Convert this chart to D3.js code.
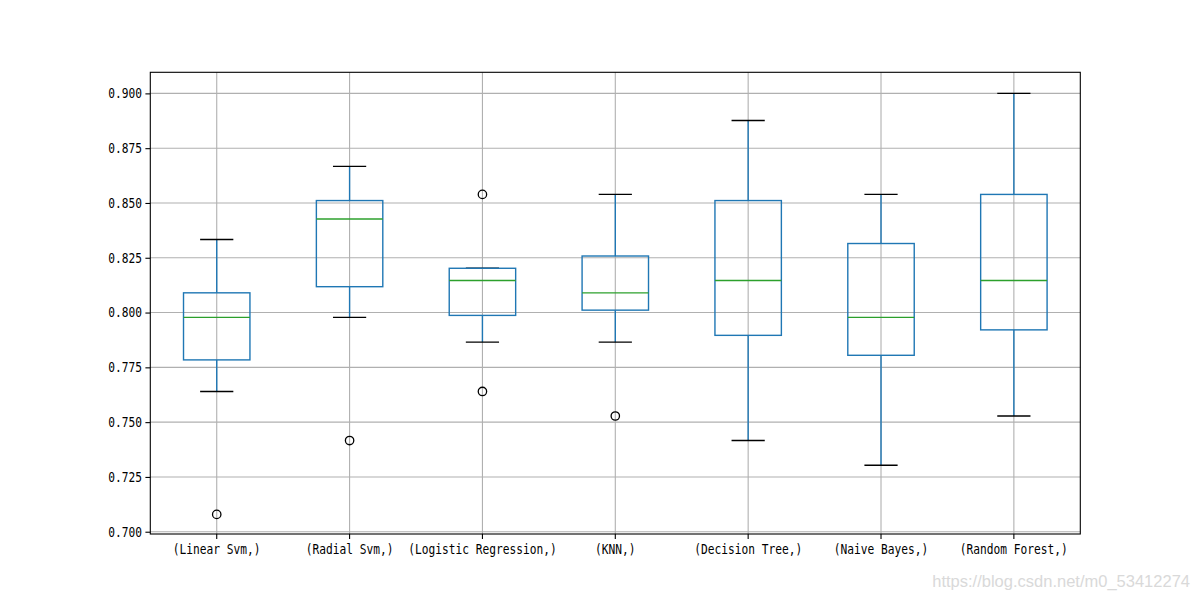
<!DOCTYPE html>
<html>
<head>
<meta charset="utf-8">
<script src="https://cdn.jsdelivr.net/npm/d3@7"></script>
<style>
  html, body { margin: 0; padding: 0; background: #fff; }
  svg { display: block; }
</style>
</head>
<body>
<svg id="chart" width="1200" height="600"></svg>
<script>
// ---- data ----
const categories = ["(Linear Svm,)", "(Radial Svm,)", "(Logistic Regression,)", "(KNN,)", "(Decision Tree,)", "(Naive Bayes,)", "(Random Forest,)"];
const whiskerLow  = [0.7640, 0.7978, 0.7865, 0.7865, 0.7416, 0.7303, 0.7528];
const q1          = [0.7784, 0.8118, 0.7987, 0.8011, 0.7896, 0.7805, 0.7921];
const medians     = [0.7978, 0.8427, 0.8146, 0.8090, 0.8146, 0.7978, 0.8146];
const q3          = [0.8090, 0.8511, 0.8202, 0.8258, 0.8511, 0.8315, 0.8539];
const whiskerHigh = [0.8333, 0.8667, 0.8202, 0.8539, 0.8876, 0.8539, 0.9000];
const outliers    = [[0.7079], [0.7416], [0.8539, 0.7640], [0.7528], [], [], []];
const yTicks      = [0.700, 0.725, 0.750, 0.775, 0.800, 0.825, 0.850, 0.875, 0.900];

const rows = categories.map((c, i) => ({
  name: c, lo: whiskerLow[i], q1: q1[i], med: medians[i], q3: q3[i], hi: whiskerHigh[i], out: outliers[i]
}));

// ---- layout ----
const plotL = 150.3, plotR = 1080.3, plotT = 72.3, plotB = 534;
const svg = d3.select("#chart");

const x = d3.scaleBand().domain(categories).range([plotL, plotR]).padding(0);
const y = d3.scaleLinear().domain([0.69896, 0.90962]).range([plotB, plotT]);
const bw = x.bandwidth();
const cx = c => x(c) + bw / 2;
const boxW = bw * 0.5, capW = bw * 0.25;

const monoFont = "'DejaVu Sans Mono', monospace";
const charW = 6.75;

// grid
const grid = svg.append("g");
grid.selectAll("line.gy").data(yTicks).join("line")
  .attr("x1", plotL).attr("x2", plotR)
  .attr("y1", d => y(d)).attr("y2", d => y(d))
  .attr("stroke", "#b0b0b0").attr("stroke-width", 1.1);
grid.selectAll("line.gx").data(categories).join("line")
  .attr("x1", d => cx(d)).attr("x2", d => cx(d))
  .attr("y1", plotT).attr("y2", plotB)
  .attr("stroke", "#b0b0b0").attr("stroke-width", 1.1);

// boxes
const g = svg.append("g");
const b = g.selectAll("g.box").data(rows).join("g").attr("class", "box");
const blue = "#1f77b4";
// whiskers
b.append("line").attr("x1", d => cx(d.name)).attr("x2", d => cx(d.name))
  .attr("y1", d => y(d.q1)).attr("y2", d => y(d.lo)).attr("stroke", blue).attr("stroke-width", 1.4);
b.append("line").attr("x1", d => cx(d.name)).attr("x2", d => cx(d.name))
  .attr("y1", d => y(d.q3)).attr("y2", d => y(d.hi)).attr("stroke", blue).attr("stroke-width", 1.4);
// caps
b.append("line").attr("x1", d => cx(d.name) - capW / 2).attr("x2", d => cx(d.name) + capW / 2)
  .attr("y1", d => y(d.lo)).attr("y2", d => y(d.lo)).attr("stroke", "#000").attr("stroke-width", 1.4);
b.append("line").attr("x1", d => cx(d.name) - capW / 2).attr("x2", d => cx(d.name) + capW / 2)
  .attr("y1", d => y(d.hi)).attr("y2", d => y(d.hi)).attr("stroke", "#000").attr("stroke-width", 1.4);
// box
b.append("rect").attr("x", d => cx(d.name) - boxW / 2).attr("width", boxW)
  .attr("y", d => y(d.q3)).attr("height", d => y(d.q1) - y(d.q3))
  .attr("fill", "none").attr("stroke", blue).attr("stroke-width", 1.4);
// median
b.append("line").attr("x1", d => cx(d.name) - boxW / 2).attr("x2", d => cx(d.name) + boxW / 2)
  .attr("y1", d => y(d.med)).attr("y2", d => y(d.med)).attr("stroke", "#2ca02c").attr("stroke-width", 1.4);
// fliers
b.selectAll("circle").data(d => d.out.map(v => ({ name: d.name, v }))).join("circle")
  .attr("cx", d => cx(d.name)).attr("cy", d => y(d.v)).attr("r", 4.2)
  .attr("fill", "none").attr("stroke", "#000").attr("stroke-width", 1.3);

// axes
const yAxis = d3.axisLeft(y).tickValues(yTicks).tickFormat(d3.format(".3f")).tickSize(4.9).tickPadding(3.5);
const xAxis = d3.axisBottom(x).tickSize(4.9).tickPadding(3.5);

const ya = svg.append("g").attr("transform", `translate(${plotL},0)`).call(yAxis);
const xa = svg.append("g").attr("transform", `translate(0,${plotB})`).call(xAxis);
[ya, xa].forEach(a => {
  a.select(".domain").remove();
  a.selectAll(".tick line").attr("stroke", "#000").attr("stroke-width", 1.1);
  a.selectAll(".tick text")
    .attr("font-family", monoFont).attr("font-size", 13.5).attr("fill", "#000")
    .each(function () {
      const t = d3.select(this);
      t.attr("textLength", t.text().length * charW).attr("lengthAdjust", "spacingAndGlyphs");
    });
});
xa.selectAll(".tick text").attr("dy", "0.71em").attr("y", 10);

// spines
svg.append("rect").attr("x", plotL).attr("y", plotT).attr("width", plotR - plotL).attr("height", plotB - plotT)
  .attr("fill", "none").attr("stroke", "#000").attr("stroke-width", 1.1);

// watermark
svg.append("text").attr("x", 1190).attr("y", 587).attr("text-anchor", "end")
  .attr("font-family", "'Liberation Sans', Arial, sans-serif").attr("font-size", 16.5)
  .attr("fill", "#d9d9d9").text("https://blog.csdn.net/m0_53412274");
</script>
</body>
</html>
